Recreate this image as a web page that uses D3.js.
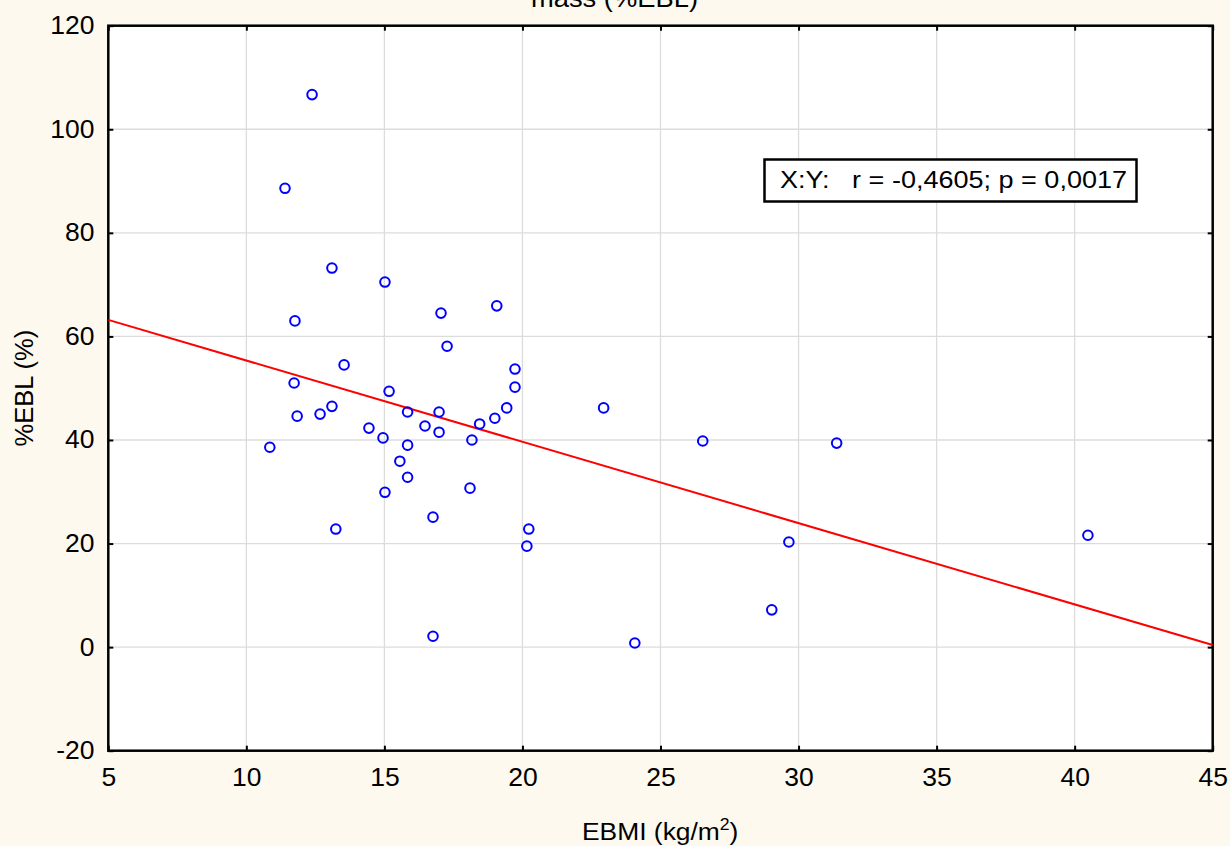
<!DOCTYPE html>
<html>
<head>
<meta charset="utf-8">
<script src="https://cdn.jsdelivr.net/npm/d3@7"></script>
<style>
  html, body { margin: 0; padding: 0; background: #fdf9ee; }
  svg { display: block; font-family: Arial, "Liberation Sans", sans-serif; }
</style>
</head>
<body>
<svg id="chart" width="1230" height="846"></svg>
<script>
// EBMI (kg/m2) vs %EBL (%)
var ebmi = [12.38, 11.40, 13.10, 15.02, 11.76, 17.05, 19.07, 17.27, 13.54, 19.73,
            11.73, 19.73, 15.17, 13.10, 22.94, 19.43, 12.67, 11.84, 15.84, 16.98,
            19.00, 18.45, 14.44, 16.47, 16.98, 14.95, 18.17, 26.53, 31.38, 15.84,
            10.85, 15.56, 15.84, 18.10, 15.02, 16.76, 13.24, 20.23, 20.16, 40.48,
            29.65, 29.03, 16.76, 24.07];
var ebl  = [106.7, 88.6, 73.2, 70.5, 63.0, 64.5, 65.9, 58.1, 54.5, 53.7,
            51.0, 50.2, 49.4, 46.5, 46.2, 46.2, 45.0, 44.6, 45.4, 45.4,
            44.2, 43.1, 42.3, 42.7, 41.5, 40.4, 40.0, 39.8, 39.4, 39.0,
            38.6, 35.9, 32.8, 30.7, 29.9, 25.1, 22.8, 22.8, 19.5, 21.6,
            20.3, 7.2, 2.1, 0.8];

// fitted line, end points
var fitX = [5, 45];
var fitY = [63.2, 0.4];

var xTicks = [5, 10, 15, 20, 25, 30, 35, 40, 45];
var yTicks = [-20, 0, 20, 40, 60, 80, 100, 120];

var titleText = "mass (%EBL)";
var xLabel = "EBMI (kg/m";
var yLabel = "%EBL (%)";
var statText = "X:Y:   r = -0,4605; p = 0,0017";

var margin = {top: 25.7, right: 17.3, bottom: 95.3, left: 108.3},
    width = 1230 - margin.left - margin.right,
    height = 846 - margin.top - margin.bottom;

var svg = d3.select("#chart");

var x = d3.scaleLinear().domain([5, 45]).range([0, width]);
var y = d3.scaleLinear().domain([-20, 120]).range([height, 0]);

// title (cut at the top)
svg.append("text")
    .attr("x", 531)
    .attr("y", 6.5)
    .attr("textLength", 167)
    .attr("lengthAdjust", "spacingAndGlyphs")
    .style("font-size", "25px")
    .text(titleText);

var g = svg.append("g")
    .attr("transform", "translate(" + margin.left + "," + margin.top + ")");

g.append("rect")
    .attr("width", width)
    .attr("height", height)
    .attr("fill", "#fff");

// grid
g.selectAll(".gx")
    .data(xTicks.slice(1, -1))
  .enter().append("line")
    .attr("x1", function(d) { return x(d); })
    .attr("x2", function(d) { return x(d); })
    .attr("y1", 0)
    .attr("y2", height)
    .attr("stroke", "#dcdcdc")
    .attr("stroke-width", 1.3);

g.selectAll(".gy")
    .data(yTicks.slice(1, -1))
  .enter().append("line")
    .attr("y1", function(d) { return y(d); })
    .attr("y2", function(d) { return y(d); })
    .attr("x1", 0)
    .attr("x2", width)
    .attr("stroke", "#dcdcdc")
    .attr("stroke-width", 1.3);

// axes, inward ticks on all sides
var axes = [
  {ax: d3.axisBottom(x).tickValues(xTicks), t: "translate(0," + height + ")", pad: 18, lab: true},
  {ax: d3.axisTop(x).tickValues(xTicks), t: "translate(0,0)", pad: 0, lab: false},
  {ax: d3.axisLeft(y).tickValues(yTicks), t: "translate(0,0)", pad: 13, lab: true},
  {ax: d3.axisRight(y).tickValues(yTicks), t: "translate(" + width + ",0)", pad: 0, lab: false}
];
axes.forEach(function(a) {
  var ag = g.append("g")
      .attr("transform", a.t)
      .call(a.ax.tickSize(-5).tickPadding(a.pad)
        .tickFormat(function(d) { return a.lab ? String(d) : ""; }));
  ag.select(".domain").remove();
  ag.selectAll(".tick line").attr("stroke", "#000").attr("stroke-width", 2);
  ag.selectAll(".tick text")
      .attr("fill", "#000")
      .attr("transform", "scale(1.06,1)")
      .style("font-size", "25px")
      .style("font-family", "Arial, 'Liberation Sans', sans-serif");
});

g.append("rect")
    .attr("width", width)
    .attr("height", height)
    .attr("fill", "none")
    .attr("stroke", "#000")
    .attr("stroke-width", 2.5);

// regression line
g.append("line")
    .attr("x1", x(fitX[0]))
    .attr("y1", y(fitY[0]))
    .attr("x2", x(fitX[1]))
    .attr("y2", y(fitY[1]))
    .attr("stroke", "#ff0000")
    .attr("stroke-width", 2);

// points
g.selectAll(".pt")
    .data(ebmi)
  .enter().append("circle")
    .attr("cx", function(d) { return x(d); })
    .attr("cy", function(d, i) { return y(ebl[i]); })
    .attr("r", 4.8)
    .attr("fill", "none")
    .attr("stroke", "#0000ff")
    .attr("stroke-width", 2);

// stats box
svg.append("rect")
    .attr("x", 764.5)
    .attr("y", 159.5)
    .attr("width", 372)
    .attr("height", 42)
    .attr("fill", "#fff")
    .attr("stroke", "#000")
    .attr("stroke-width", 2.5);

svg.append("text")
    .attr("x", 780)
    .attr("y", 188)
    .attr("textLength", 347)
    .attr("lengthAdjust", "spacingAndGlyphs")
    .style("font-size", "24px")
    .style("white-space", "pre")
    .text(statText);

// axis labels
var xl = svg.append("text")
    .attr("transform", "translate(582,840) scale(1.1,1)")
    .style("font-size", "24px");
xl.append("tspan").text(xLabel);
xl.append("tspan").attr("dy", -10).style("font-size", "16px").text("2");
xl.append("tspan").attr("dy", 10).text(")");

svg.append("text")
    .attr("transform", "translate(33," + (margin.top + y(50)) + ") rotate(-90)")
    .attr("text-anchor", "middle")
    .style("font-size", "25.5px")
    .text(yLabel);
</script>
</body>
</html>
